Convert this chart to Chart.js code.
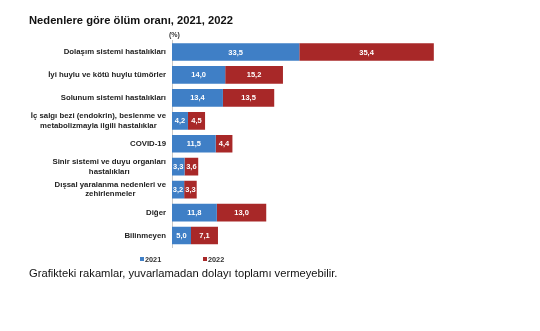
<!DOCTYPE html>
<html>
<head>
<meta charset="utf-8">
<title>Nedenlere göre ölüm oranı, 2021, 2022</title>
<script src="https://cdn.jsdelivr.net/npm/chart.js@4.4.0/dist/chart.umd.min.js"></script>
<style>
    html, body { margin: 0; padding: 0; background: #ffffff; }
    #wrap { width: 540px; height: 331px; position: relative; }
</style>
</head>
<body>
<div id="wrap"><canvas id="chart" width="540" height="331"></canvas></div>
<script>
    var causes = [
        "Dolaşım sistemi hastalıkları",
        "İyi huylu ve kötü huylu tümörler",
        "Solunum sistemi hastalıkları",
        ["İç salgı bezi (endokrin), beslenme ve", "metabolizmayla ilgili hastalıklar"],
        "COVID-19",
        ["Sinir sistemi ve duyu organları", "hastalıkları"],
        ["Dışsal yaralanma nedenleri ve", "zehirlenmeler"],
        "Diğer",
        "Bilinmeyen"
    ];
    var values2021 = [33.5, 14.0, 13.4, 4.2, 11.5, 3.3, 3.2, 11.8, 5.0];
    var values2022 = [35.4, 15.2, 13.5, 4.5, 4.4, 3.6, 3.3, 13.0, 7.1];
    var years = ["2021", "2022"];
    var chartTitle = "Nedenlere göre ölüm oranı, 2021, 2022";
    var unitText = "(%)";
    var footnote = "Grafikteki rakamlar, yuvarlamadan dolayı toplamı vermeyebilir.";

    var blue = "#3f7fc6";
    var red = "#a82828";
    var fontFamily = "'Liberation Sans', Arial, sans-serif";

    // values inside the bars, with a decimal comma
    var barLabels = {
        id: "barLabels",
        afterDatasetsDraw: function (chart) {
            var ctx = chart.ctx;
            ctx.save();
            ctx.font = "bold 7.5px " + fontFamily;
            ctx.fillStyle = "#ffffff";
            ctx.textAlign = "center";
            ctx.textBaseline = "middle";
            chart.data.datasets.forEach(function (ds, i) {
                var meta = chart.getDatasetMeta(i);
                meta.data.forEach(function (bar, j) {
                    var txt = ds.data[j].toFixed(1).replace(".", ",");
                    ctx.fillText(txt, (bar.x + bar.base) / 2, bar.y + 0.5);
                });
            });
            ctx.restore();
        }
    };

    // category names: block right-aligned to the axis, lines centred inside the block
    var categoryLabels = {
        id: "categoryLabels",
        afterDraw: function (chart) {
            var ctx = chart.ctx;
            var yScale = chart.scales.y;
            var right = chart.chartArea.left - 6;
            var lineH = 9.4;
            ctx.save();
            ctx.font = "bold 7.8px " + fontFamily;
            ctx.fillStyle = "#222222";
            ctx.textAlign = "center";
            ctx.textBaseline = "middle";
            chart.data.labels.forEach(function (lab, i) {
                var lines = Array.isArray(lab) ? lab : [lab];
                var w = 0;
                lines.forEach(function (l) { w = Math.max(w, ctx.measureText(l).width); });
                var cx = right - w / 2;
                var cy = yScale.getPixelForValue(i);
                var y0 = cy - (lines.length - 1) * lineH / 2;
                lines.forEach(function (l, k) {
                    ctx.fillText(l, cx, y0 + k * lineH);
                });
            });
            ctx.restore();
        }
    };

    // title, unit, legend and footnote
    var extras = {
        id: "extras",
        afterDraw: function (chart) {
            var ctx = chart.ctx;
            var area = chart.chartArea;
            ctx.save();
            ctx.textBaseline = "alphabetic";
            ctx.textAlign = "left";

            ctx.fillStyle = "#111111";
            ctx.font = "bold 11.2px " + fontFamily;
            ctx.fillText(chartTitle, 29, 24);

            ctx.fillStyle = "#333333";
            ctx.font = "bold 7px " + fontFamily;
            ctx.fillText(unitText, area.left - 3, 37);

            var legendX = [140, 203];
            chart.data.datasets.forEach(function (ds, i) {
                ctx.fillStyle = ds.backgroundColor;
                ctx.fillRect(legendX[i], 257, 4, 4);
                ctx.fillStyle = "#333333";
                ctx.font = "bold 7.3px " + fontFamily;
                ctx.fillText(ds.label, legendX[i] + 5, 262);
            });

            ctx.fillStyle = "#111111";
            ctx.font = "11.2px " + fontFamily;
            ctx.fillText(footnote, 29, 277);
            ctx.restore();
        }
    };

    new Chart(document.getElementById("chart"), {
        type: "bar",
        data: {
            labels: causes,
            datasets: [
                { label: years[0], data: values2021, backgroundColor: blue, borderWidth: 0 },
                { label: years[1], data: values2022, backgroundColor: red, borderWidth: 0 }
            ]
        },
        options: {
            indexAxis: "y",
            responsive: false,
            animation: false,
            devicePixelRatio: 1,
            barPercentage: 0.77,
            categoryPercentage: 1,
            layout: { padding: { top: 40.5, bottom: 84, left: 0, right: 64 } },
            plugins: {
                legend: { display: false },
                tooltip: { enabled: false }
            },
            scales: {
                x: {
                    stacked: true,
                    display: false,
                    min: 0,
                    max: 80
                },
                y: {
                    stacked: true,
                    grid: { display: false, drawTicks: false },
                    border: { display: true, color: "#c8c8c8", width: 1 },
                    ticks: { display: false },
                    afterFit: function (scale) { scale.width = 172; }
                }
            }
        },
        plugins: [barLabels, categoryLabels, extras]
    });
</script>
</body>
</html>
